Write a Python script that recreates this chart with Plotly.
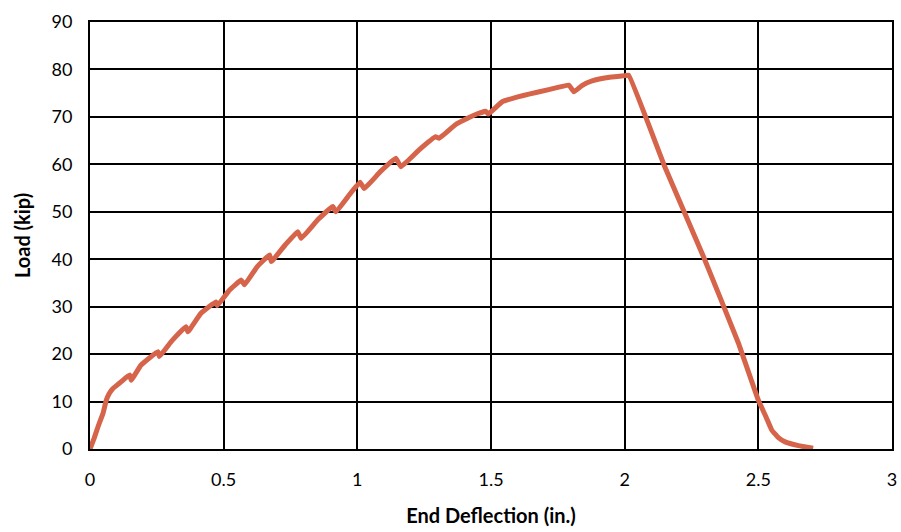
import plotly.graph_objects as go

# Load vs. end deflection test record (in., kip)
deflection = [0.0, 0.015, 0.030, 0.049, 0.061, 0.072, 0.085, 0.100, 0.117, 0.148, 0.154,
              0.191, 0.254, 0.260, 0.303, 0.359, 0.366, 0.415, 0.471, 0.476,
              0.522, 0.566, 0.578, 0.625, 0.672, 0.678, 0.730, 0.777, 0.790,
              0.852, 0.908, 0.920, 0.965, 1.010, 1.026, 1.085, 1.144, 1.163,
              1.230, 1.293, 1.306, 1.368, 1.430, 1.480, 1.490, 1.542, 1.600, 1.642,
              1.720, 1.791, 1.810, 1.840, 1.878, 1.950, 2.002, 2.015, 2.150, 2.295,
              2.425, 2.500, 2.530, 2.550, 2.575, 2.600, 2.650, 2.705]
load = [0.0, 2.2, 4.7, 7.6, 10.3, 11.7, 12.7, 13.4, 14.2, 15.6, 14.5,
        17.7, 20.5, 19.5, 22.6, 25.8, 24.7, 28.6, 31.0, 30.2,
        33.5, 35.6, 34.6, 38.4, 40.9, 39.5, 43.0, 45.8, 44.4,
        48.3, 51.1, 50.0, 53.2, 56.2, 54.9, 58.4, 61.3, 59.5,
        63.0, 65.8, 65.5, 68.4, 70.2, 71.2, 70.6, 73.2, 74.2, 74.8,
        75.8, 76.7, 75.3, 76.6, 77.6, 78.4, 78.7, 78.8, 59.5, 40.5,
        22.4, 10.3, 6.6, 4.0, 2.4, 1.5, 0.7, 0.15]

x_ticks = [0, 0.5, 1, 1.5, 2, 2.5, 3]
x_tick_text = ["0", "0.5", "1", "1.5", "2", "2.5", "3"]
y_ticks = [0, 10, 20, 30, 40, 50, 60, 70, 80, 90]

font_family = "Lato, 'Open Sans', sans-serif"

fig = go.Figure()
fig.add_trace(go.Scatter(
    x=deflection, y=load, mode="lines",
    line=dict(color="rgb(214,100,74)", width=5, shape="spline", smoothing=0.3),
    hoverinfo="skip", showlegend=False,
))

axis_common = dict(
    showgrid=True, gridcolor="black", gridwidth=2,
    showline=True, linecolor="black", linewidth=2, mirror=True,
    zeroline=False, ticks="",
    tickfont=dict(family=font_family, size=18, color="black"),
)

fig.update_layout(
    width=901, height=532,
    margin=dict(l=90, r=4, t=22, b=83),
    paper_bgcolor="white", plot_bgcolor="white",
    xaxis=dict(
        range=[0, 3], tickvals=x_ticks, ticktext=x_tick_text,
        ticklabelstandoff=13,
        title=dict(text="<b>End Deflection (in.)</b>", standoff=20,
                   font=dict(family=font_family, size=20, color="black")),
        **axis_common,
    ),
    yaxis=dict(
        range=[0, 90], tickvals=y_ticks,
        ticklabelstandoff=12,
        title=dict(text="<b>Load (kip)</b>", standoff=16,
                   font=dict(family=font_family, size=20, color="black")),
        **axis_common,
    ),
)

fig.write_html("out.html")
